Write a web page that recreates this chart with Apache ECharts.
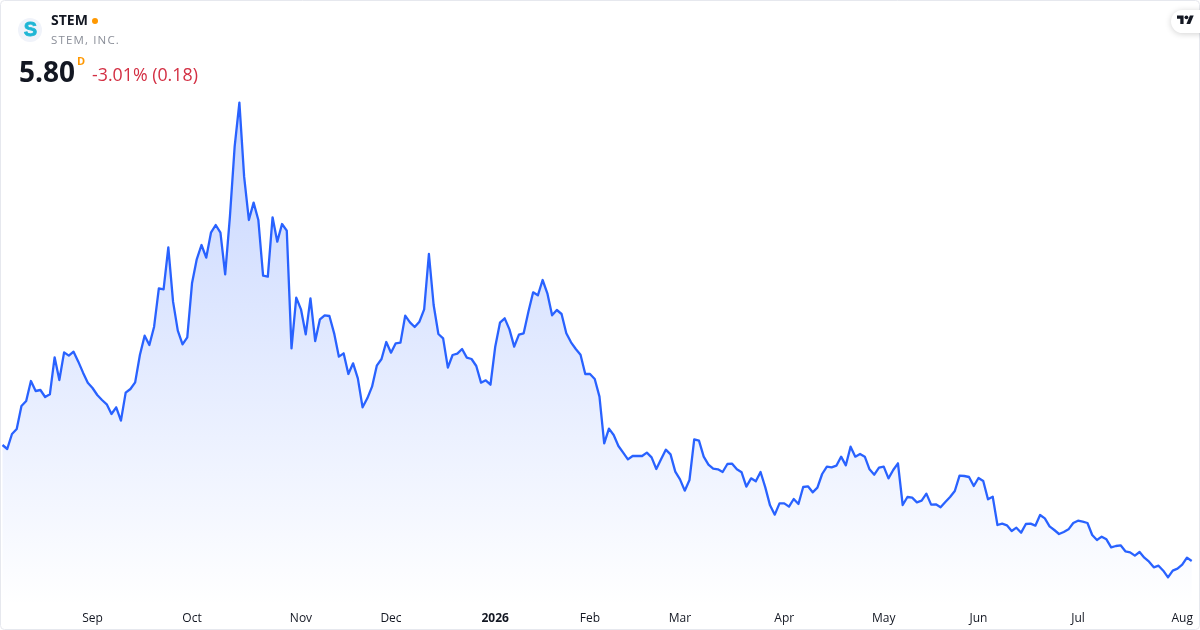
<!DOCTYPE html>
<html>
<head>
<meta charset="utf-8">
<style>html,body{margin:0;padding:0;background:#fff}#c{width:1200px;height:630px}</style>
<script src="https://cdn.jsdelivr.net/npm/echarts@6/dist/echarts.min.js"></script>
</head>
<body>
<div id="c"></div>
<script>
const prices = [
9.28,9.16,9.61,9.76,10.45,10.60,11.20,10.90,10.93,10.72,10.80,11.91,11.23,12.06,11.96,12.08,11.78,11.45,11.15,10.99,
10.78,10.63,10.50,10.21,10.41,10.01,10.85,10.96,11.16,11.98,12.56,12.28,12.83,13.98,13.95,15.21,13.58,12.71,12.30,12.51,
14.13,14.85,15.28,14.90,15.65,15.88,15.65,14.40,16.13,18.23,19.55,17.33,16.03,16.55,16.03,14.36,14.33,16.11,15.38,15.91,
15.71,12.18,13.70,13.35,12.60,13.68,12.40,13.05,13.17,13.15,12.63,11.93,12.03,11.41,11.73,11.28,10.41,10.68,11.03,11.66,
11.86,12.37,12.05,12.33,12.35,13.16,12.96,12.82,12.98,13.35,15.01,13.48,12.61,12.48,11.60,11.98,12.02,12.16,11.90,11.86,
11.65,11.15,11.22,11.09,12.23,12.95,13.08,12.75,12.23,12.59,12.63,13.28,13.86,13.77,14.23,13.83,13.17,13.33,13.21,12.63,
12.36,12.16,11.99,11.41,11.41,11.26,10.73,9.33,9.77,9.58,9.25,9.05,8.85,8.95,8.95,8.95,9.05,8.91,8.56,8.85,
9.14,9.00,8.48,8.25,7.91,8.23,9.45,9.41,8.93,8.69,8.57,8.55,8.47,8.71,8.72,8.55,8.46,8.03,8.28,8.19,
8.47,8.01,7.47,7.19,7.53,7.53,7.43,7.66,7.51,8.02,8.04,7.86,8.00,8.41,8.63,8.61,8.66,8.93,8.67,9.23,
8.93,9.01,8.93,8.55,8.39,8.60,8.63,8.28,8.53,8.73,7.48,7.72,7.70,7.56,7.61,7.82,7.49,7.50,7.41,7.57,
7.72,7.90,8.36,8.35,8.32,8.05,8.29,8.20,7.65,7.73,6.88,6.92,6.87,6.70,6.80,6.65,6.91,6.92,6.86,7.18,
7.08,6.84,6.73,6.61,6.67,6.75,6.94,7.01,6.98,6.94,6.58,6.43,6.53,6.45,6.21,6.25,6.27,6.09,6.06,5.96,
6.07,5.90,5.78,5.61,5.66,5.51,5.31,5.51,5.57,5.69,5.90,5.80
];
const tickIndexes = [19,40,63,82,104,124,143,165,186,206,227,249];
const tickLabels = ['Sep','Oct','Nov','Dec','2026','Feb','Mar','Apr','May','Jun','Jul','Aug'];
const categories = prices.map((_, i) => String(i));
const labelFor = Object.fromEntries(tickIndexes.map((t, i) => [String(t), tickLabels[i]]));
const FONT = '"Open Sans", sans-serif';

const chart = echarts.init(document.getElementById('c'), null, {renderer: 'canvas'});
chart.setOption({
  animation: false,
  backgroundColor: '#fff',
  grid: {left: 2.5, right: 8.3, top: 30, height: 576},
  xAxis: {
    type: 'category', data: categories, boundaryGap: false,
    axisLine: {show: false}, axisTick: {show: false}, splitLine: {show: false},
    axisLabel: {
      interval: (i) => labelFor[String(i)] !== undefined,
      formatter: (v) => { const l = labelFor[v]; return l === '2026' ? '{b|2026}' : l; },
      color: '#131722', fontFamily: FONT, fontSize: 12, margin: 7, hideOverlap: false,
      rich: {b: {fontWeight: 'bold', fontSize: 12, color: '#131722', fontFamily: FONT}}
    }
  },
  yAxis: {type: 'value', min: 4.45, max: 21.73, show: false},
  series: [{
    type: 'line', data: prices, showSymbol: false, smooth: false,
    lineStyle: {color: '#2962ff', width: 2.3, join: 'round'},
    areaStyle: {color: {type: 'linear', x: 0, y: 0, x2: 0, y2: 1, colorStops: [
      {offset: 0, color: 'rgba(41,98,255,0.38)'},
      {offset: 1, color: 'rgba(41,98,255,0)'}
    ]}}
  }],
  graphic: [
    {type: 'rect', z: 10, shape: {x: 0.5, y: 0.5, width: 1199, height: 629, r: 4}, style: {fill: 'none', stroke: '#e6e8ee', lineWidth: 1}},
    {type: 'circle', z: 11, shape: {cx: 30, cy: 30, r: 12}, style: {fill: '#f0f3fa'}},
    {type: 'text', z: 12, x: 30.5, y: 30.5, style: {text: 'S', fill: '#1fb6d5', font: 'bold 20px "Liberation Sans", sans-serif', align: 'center', verticalAlign: 'middle', stroke: '#1fb6d5', lineWidth: 0.8}},
    {type: 'text', z: 12, x: 51, y: 21, style: {text: 'STEM', fill: '#131722', font: 'bold 14px ' + FONT, align: 'left', verticalAlign: 'middle'}},
    {type: 'circle', z: 12, shape: {cx: 95, cy: 21, r: 3}, style: {fill: '#ff9800'}},
    {type: 'text', z: 12, x: 51, y: 41, style: {text: 'STEM, INC.'.split('').join('\u200a'), fill: '#8a8e98', font: '11.5px ' + FONT, align: 'left', verticalAlign: 'middle'}},
    {type: 'text', z: 12, x: 19, y: 74, style: {text: '5.80', fill: '#131722', font: 'bold 28px ' + FONT, align: 'left', verticalAlign: 'middle'}},
    {type: 'text', z: 12, x: 77, y: 62, style: {text: 'D', fill: '#ff9800', font: 'bold 11px ' + FONT, align: 'left', verticalAlign: 'middle'}},
    {type: 'text', z: 12, x: 92, y: 76, style: {text: '-3.01% (0.18)', fill: '#d32f43', font: '17.8px ' + FONT, align: 'left', verticalAlign: 'middle'}},
    {type: 'rect', z: 12, shape: {x: 1171, y: 10, width: 40, height: 23, r: 11.5}, style: {fill: '#fff', shadowBlur: 6, shadowColor: 'rgba(0,0,0,0.18)', shadowOffsetY: 1}},
    {type: 'group', z: 13, x: 1177, y: 13.6, scaleX: 0.47, scaleY: 0.47, children: [
      {type: 'polygon', z: 13, shape: {points: [[0,4],[14,4],[14,22],[7,22],[7,11],[0,11]]}, style: {fill: '#131722'}},
      {type: 'polygon', z: 13, shape: {points: [[20,22],[28,22],[35.5,4],[27.5,4]]}, style: {fill: '#131722'}},
      {type: 'circle', z: 13, shape: {cx: 20, cy: 8, r: 4}, style: {fill: '#131722'}}
    ]}
  ]
});
</script>
</body>
</html>
